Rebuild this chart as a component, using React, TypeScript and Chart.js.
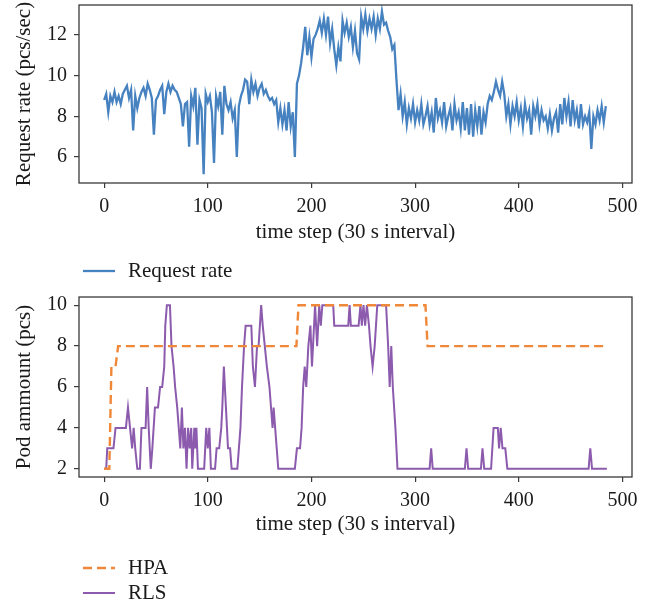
import React, { useEffect, useRef } from "react";
import { Chart, registerables } from "chart.js";

Chart.register(...registerables);

// ---------- data ----------
const xTickValues = [0, 100, 200, 300, 400, 500];
const rateTickValues = [6, 8, 10, 12];
const podTickValues = [2, 4, 6, 8, 10];

// request rate sampled every 2 time steps (t = 0, 2, 4, ...)
const rateValues = [
  8.8, 9.1, 8.2, 9.0, 8.7, 9.2, 8.7, 9.0, 8.6, 9.1, 9.3, 9.5, 8.9, 9.3, 7.3, 9.0,
  8.4, 8.9, 9.2, 9.4, 9.0, 9.6, 9.3, 8.9, 7.1, 8.8, 9.0, 9.3, 9.5, 8.1, 9.2, 9.6,
  9.2, 9.5, 9.3, 9.2, 8.9, 8.6, 7.5, 8.6, 8.7, 6.5, 9.0, 8.5, 9.4, 6.6, 8.8, 8.4,
  5.15, 9.1, 8.7, 9.0, 8.2, 5.7, 9.0, 8.5, 9.2, 7.1, 9.5, 8.6, 8.3, 8.7, 7.9, 8.3,
  6.0, 8.5, 9.0, 9.3, 9.8, 9.7, 8.6, 9.8, 9.2, 9.6, 9.0, 9.4, 9.6, 9.1, 9.3, 9.0,
  8.8, 8.9, 8.6, 8.8, 7.7, 8.4, 7.6, 8.3, 7.3, 8.7, 7.5, 8.2, 6.0, 9.6, 10.0, 10.6,
  11.4, 12.4, 11.0, 11.9, 10.9, 11.8, 12.0, 12.3, 12.7, 12.1, 12.8, 12.0, 12.9, 11.6, 12.3, 11.3,
  10.5, 11.4, 10.7, 12.7, 12.1, 12.6, 11.9, 12.4, 11.4, 12.2, 11.1, 10.8, 12.9, 12.3, 13.0, 12.2,
  12.8, 12.3, 12.9, 12.0, 12.8, 12.3, 13.15, 12.5, 12.6, 12.2, 11.9, 11.3, 11.5, 9.8, 8.3, 9.1,
  8.0, 8.7, 7.6, 8.4, 7.9, 8.6, 7.7, 8.3, 7.8, 8.6, 7.6, 8.0, 8.5, 7.6, 8.2, 7.2,
  8.9, 7.9, 8.3, 7.7, 8.7, 7.5, 8.0, 8.4, 7.3, 8.6, 7.8, 8.2, 7.4, 8.7, 7.3, 8.4,
  7.1, 8.6, 7.0, 8.3, 7.5, 8.5, 7.1, 8.2, 7.7, 8.6, 9.0, 8.8, 9.2, 9.7, 9.3, 9.0,
  9.7, 9.1, 8.0, 8.6, 7.6, 8.5, 8.0, 8.7, 7.8, 8.4, 7.5, 8.6, 7.9, 8.3, 7.1, 8.5,
  8.0, 8.6, 7.6, 8.3, 7.8, 8.0, 7.4, 8.1, 7.3, 7.9, 8.2, 7.2, 8.6, 7.6, 8.9, 8.0,
  8.7, 7.5, 8.8, 7.8, 8.3, 7.4, 8.6, 7.6, 8.0, 7.7, 8.2, 6.4, 8.0, 7.6, 8.3, 7.8,
  8.5, 7.7, 8.5,
];
const rateSteps = rateValues.map((_, i) => i * 2);

// HPA pod count (vertices of the line)
const hpaSteps = [0, 5, 7, 11, 13.5, 185.5, 187.5, 310, 312, 485];
const hpaPods = [2, 2, 7, 7, 8, 8, 10, 10, 8, 8];

// RLS pod count (vertices of the line)
const rlsSteps = [
  0, 2, 3, 9, 11, 21, 23, 25, 27, 28.5, 30, 32, 34.5, 36, 40, 41.5, 43, 45, 46.5, 49,
  52, 54, 56, 58, 59, 60.5, 63.5, 65, 67, 68.5, 70.5, 72, 73.5, 75, 76.5, 78, 79.5, 81, 82.5, 84,
  85, 87, 88, 89, 90.5, 96.5, 97.5, 98.5, 100, 101.5, 103, 107, 108.5, 111, 113, 114, 115.5, 117.5, 119.5, 121.5,
  123, 128.5, 130, 131.5, 133, 135, 136.5, 142, 143.5, 145.5, 147.5, 149, 151.5, 153, 155, 157, 159.5, 161, 162.5, 163.5,
  165, 166.5, 168, 184, 186, 189, 190.5, 192, 193.5, 195, 197, 199, 200.5, 203.5, 205.5, 207.5, 209, 210.5, 221, 222,
  235.5, 236.8, 238, 245.5, 247.3, 248.6, 250.2, 251.8, 253.5, 255.5, 257, 259, 261, 263.5, 272, 274, 275.5, 277, 278.5, 281,
  283, 314, 315.5, 317, 348, 349.6, 351.2, 363.5, 365, 366.7, 373.3, 375.7, 379.8, 381, 382.6, 384.3, 387, 389, 467.4, 469,
  470.7, 485,
];
const rlsPods = [
  2, 2, 3, 3, 4, 4, 5, 4, 3, 4, 3, 2, 2, 4, 4, 6, 4, 2, 3, 5,
  5, 6, 6, 7, 9, 10, 10, 8, 7, 6, 5, 4, 3, 5, 3, 4, 2, 4, 3, 4,
  2, 4, 3, 4, 2, 2, 3, 4, 3, 4, 2, 2, 3, 3, 4, 5, 7, 5, 3, 3,
  2, 2, 3, 4, 6, 8, 9, 9, 7, 6, 8, 8, 10, 9, 8, 7, 6, 5, 4, 5,
  4, 3, 2, 2, 3, 3, 4, 6, 7, 6, 8, 9, 7, 10, 8, 10, 9, 10, 10, 9,
  9, 10, 9, 9, 10, 9, 10, 9, 10, 9, 8, 7, 8, 10, 10, 8, 6, 8, 6, 4,
  2, 2, 3, 2, 2, 3, 2, 2, 3, 2, 2, 4, 4, 3, 4, 3, 3, 2, 2, 3,
  2, 2,
];

// ---------- styling ----------
const FONT = "'Liberation Serif', 'DejaVu Serif', 'Times New Roman', serif";
const TEXT = "#1a1a1a";
const SPINE = "#3a3a3a";
const BLUE = "#4681c0";
const ORANGE = "#f0883a";
const PURPLE = "#8c5bad";

const framePlugin = {
  id: "frame",
  afterDraw(chart: any) {
    const { ctx, chartArea } = chart;
    ctx.save();
    ctx.strokeStyle = SPINE;
    ctx.lineWidth = 1.3;
    ctx.strokeRect(chartArea.left, chartArea.top, chartArea.right - chartArea.left, chartArea.bottom - chartArea.top);
    ctx.restore();
  },
};

const legendPlugin = {
  id: "customLegend",
  afterDraw(chart: any, _args: any, opts: any) {
    const ctx = chart.ctx;
    ctx.save();
    (opts.items || []).forEach((item: any) => {
      const ds = chart.data.datasets[item.dataset];
      ctx.strokeStyle = ds.borderColor;
      ctx.lineWidth = ds.borderWidth;
      ctx.setLineDash(ds.borderDash || []);
      ctx.beginPath();
      ctx.moveTo(opts.x, item.y);
      ctx.lineTo(opts.x + opts.lineLength, item.y);
      ctx.stroke();
      ctx.setLineDash([]);
      ctx.fillStyle = TEXT;
      ctx.font = `${opts.fontSize}px ${FONT}`;
      ctx.textBaseline = "middle";
      ctx.textAlign = "left";
      ctx.fillText(ds.label, opts.x + opts.lineLength + opts.gap, item.y);
    });
    ctx.restore();
  },
};

function axisCommon() {
  return {
    grid: { display: true, drawOnChartArea: false, drawTicks: true, tickLength: 5, color: SPINE, lineWidth: 1.2 },
    border: { display: false },
  };
}

function makeOptions(cfg: any) {
  return {
    responsive: false,
    animation: false,
    events: [],
    layout: { padding: { top: cfg.padTop, right: 29, left: 0, bottom: 0 } },
    plugins: {
      legend: { display: false },
      tooltip: { enabled: false },
      customLegend: cfg.legend,
    },
    scales: {
      x: {
        type: "linear",
        min: -24.25,
        max: 509.25,
        ...axisCommon(),
        afterBuildTicks: (s: any) => {
          s.ticks = xTickValues.map((v) => ({ value: v }));
        },
        afterFit: (s: any) => {
          s.height = cfg.xHeight;
          s.paddingLeft = 0;
          s.paddingRight = 0;
        },
        ticks: {
          autoSkip: false,
          maxRotation: 0,
          padding: 7,
          color: TEXT,
          font: { family: FONT, size: 20 },
          callback: (v: any) => String(v),
        },
        title: {
          display: true,
          text: "time step (30 s interval)",
          color: TEXT,
          font: { family: FONT, size: 21 },
          padding: { top: 0, bottom: cfg.xTitlePad },
        },
      },
      y: {
        type: "linear",
        min: cfg.yMin,
        max: cfg.yMax,
        ...axisCommon(),
        afterBuildTicks: (s: any) => {
          s.ticks = cfg.yTicks.map((v: number) => ({ value: v }));
        },
        afterFit: (s: any) => {
          s.width = 79;
          s.paddingTop = 0;
          s.paddingBottom = 0;
        },
        ticks: {
          autoSkip: false,
          padding: 7,
          color: TEXT,
          font: { family: FONT, size: 20 },
          callback: (v: any) => String(v),
        },
        title: {
          display: true,
          text: cfg.yTitle,
          color: TEXT,
          font: { family: FONT, size: 21 },
          padding: { top: 12, bottom: 0 },
        },
      },
    },
  };
}

function useChart(ref: React.RefObject<HTMLCanvasElement>, build: () => any) {
  useEffect(() => {
    if (!ref.current) return;
    const chart = new Chart(ref.current, build());
    return () => chart.destroy();
  }, []);
}

export default function App() {
  const topRef = useRef<HTMLCanvasElement>(null);
  const botRef = useRef<HTMLCanvasElement>(null);

  useChart(topRef, () => ({
    type: "line",
    data: {
      datasets: [
        {
          label: "Request rate",
          data: rateSteps.map((x, i) => ({ x, y: rateValues[i] })),
          borderColor: BLUE,
          borderWidth: 2.3,
          pointRadius: 0,
          tension: 0,
          fill: false,
        },
      ],
    },
    options: makeOptions({
      padTop: 5,
      xHeight: 107,
      xTitlePad: 45,
      yMin: 4.72,
      yMax: 13.47,
      yTicks: rateTickValues,
      yTitle: "Request rate (pcs/sec)",
      legend: { x: 83, lineLength: 32, gap: 13, fontSize: 21, items: [{ dataset: 0, y: 271 }] },
    }),
    plugins: [framePlugin, legendPlugin],
  }));

  useChart(botRef, () => ({
    type: "line",
    data: {
      datasets: [
        {
          label: "HPA",
          data: hpaSteps.map((x, i) => ({ x, y: hpaPods[i] })),
          borderColor: ORANGE,
          borderWidth: 2.4,
          borderDash: [9, 5],
          pointRadius: 0,
          tension: 0,
          fill: false,
        },
        {
          label: "RLS",
          data: rlsSteps.map((x, i) => ({ x, y: rlsPods[i] })),
          borderColor: PURPLE,
          borderWidth: 2.0,
          pointRadius: 0,
          tension: 0,
          fill: false,
        },
      ],
    },
    options: makeOptions({
      padTop: 7,
      xHeight: 127,
      xTitlePad: 67,
      yMin: 1.6,
      yMax: 10.4,
      yTicks: podTickValues,
      yTitle: "Pod ammount (pcs)",
      legend: {
        x: 83,
        lineLength: 32,
        gap: 13,
        fontSize: 21,
        items: [
          { dataset: 0, y: 278 },
          { dataset: 1, y: 303 },
        ],
      },
    }),
    plugins: [framePlugin, legendPlugin],
  }));

  return (
    <div style={{ position: "absolute", left: 0, top: 0, width: 661, height: 604, background: "#fff" }}>
      <canvas ref={topRef} width={661} height={290} style={{ position: "absolute", left: 0, top: 0, width: 661, height: 290 }} />
      <canvas ref={botRef} width={661} height={314} style={{ position: "absolute", left: 0, top: 290, width: 661, height: 314 }} />
    </div>
  );
}
